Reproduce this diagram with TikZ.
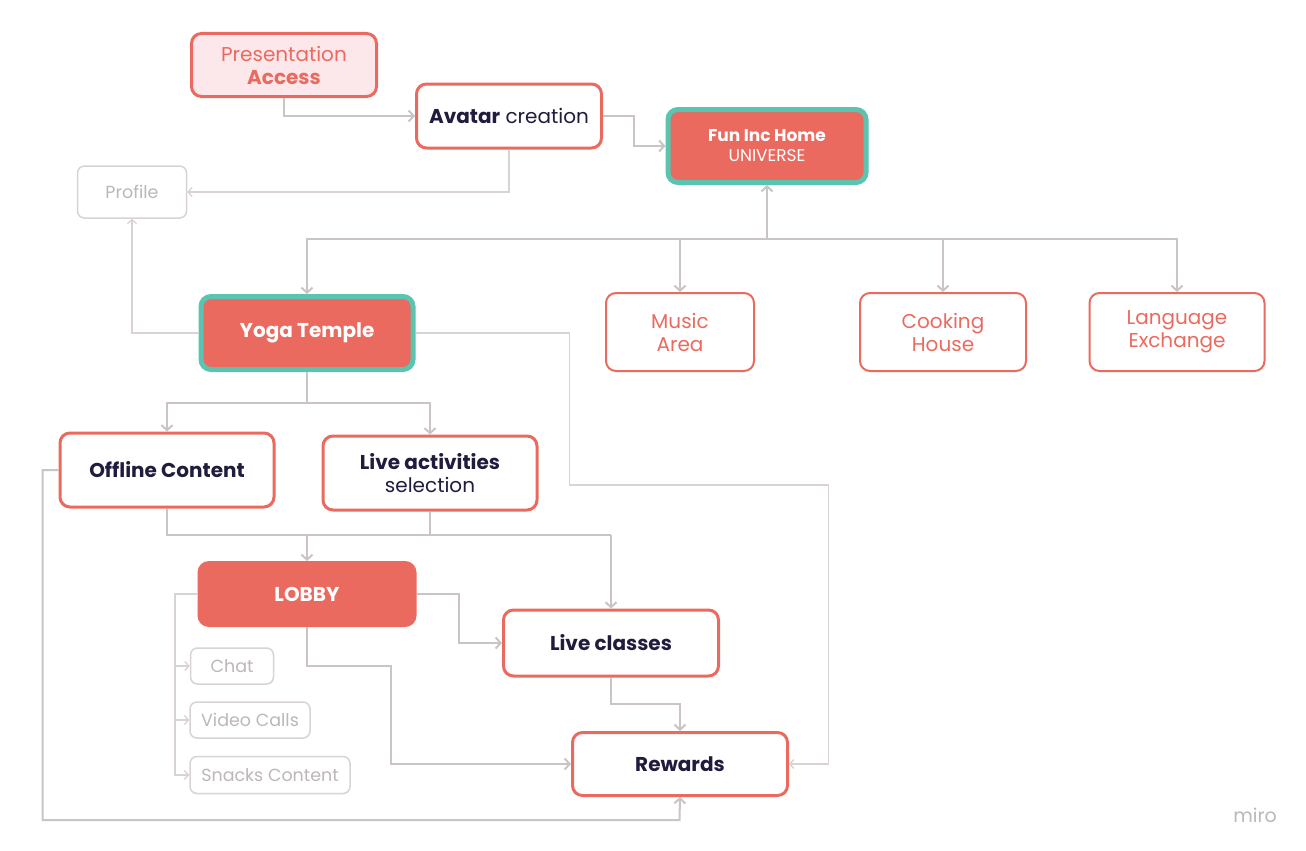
\documentclass[tikz,border=0pt]{standalone}
\usepackage{fontspec}
\setmainfont{Poppins}
\usetikzlibrary{arrows.meta, positioning}
\definecolor{ccoral}{HTML}{EB6A5F}
\definecolor{cteal}{HTML}{5BC4B0}
\definecolor{cnavy}{HTML}{1F1C3D}
\definecolor{cpink}{HTML}{FCE7EA}
\definecolor{cline}{HTML}{CBC4C4}
\definecolor{cfaint}{HTML}{D9D3D3}
\definecolor{cfainttext}{HTML}{BDB7B7}
\tikzset{
  every picture/.style={line width=2pt},
  box/.style={draw=ccoral, fill=white, rounded corners=10pt, align=center, line width=3pt, inner sep=0pt, text=cnavy, font=\fontsize{20}{23}\selectfont},
  area/.style={box, text=ccoral, line width=2pt},
  hubbox/.style={box, fill=ccoral, draw=cteal, line width=5pt, text=white},
  ghost/.style={draw=cfaint, fill=white, rounded corners=7pt, line width=1.5pt, inner sep=0pt, text=cfainttext, font=\fontsize{17.5}{20}\selectfont},
  link/.style={-{Straight Barb[length=5pt, width=11pt]}, draw=cline, line width=2pt},
  thinlink/.style={-{Straight Barb[length=4pt, width=9pt]}, draw=cfaint, line width=1.3pt},
}
\begin{document}
\begin{tikzpicture}[x=1pt, y=-1pt]
  \useasboundingbox[fill=white] (0,0) rectangle (1306,851);
  % top row
  \node[box, fill=cpink, text=ccoral, minimum width=185pt, minimum height=63pt] (pres) at (284,65) {Presentation\\\textbf{Access}};
  \node[box, minimum width=185pt, minimum height=64pt] (avatar) at (509,116) {\textbf{Avatar} creation};
  \node[hubbox, minimum width=198pt, minimum height=73pt, font=\fontsize{17}{20}\selectfont] (home) at (767,146) {\textbf{Fun Inc Home}\\UNIVERSE};
  \node[ghost, minimum width=109pt, minimum height=52pt] (profile) at (132,192) {Profile};
  % areas
  \node[hubbox, minimum width=212pt, minimum height=73pt] (yoga) at (307,333) {\textbf{Yoga Temple}};
  \node[area, minimum width=148pt, minimum height=78pt] (music) at (680,332) {Music\\Area};
  \node[area, minimum width=166pt, minimum height=78pt] (cooking) at (943,332) {Cooking\\House};
  \node[area, minimum width=175pt, minimum height=78pt] (language) at (1177,332) {Language\\Exchange};
  % yoga temple flow
  \node[box, minimum width=214pt, minimum height=74pt] (offline) at (167,470) {\textbf{Offline Content}};
  \node[box, minimum width=214pt, minimum height=74pt] (liveact) at (430,473) {\textbf{Live activities}\\selection};
  \node[box, fill=ccoral, draw=ccoral, text=white, minimum width=216pt, minimum height=63pt] (lobby) at (307,594) {\textbf{LOBBY}};
  \node[box, minimum width=215pt, minimum height=66pt] (liveclass) at (611,643) {\textbf{Live classes}};
  \node[box, minimum width=215pt, minimum height=63pt] (rewards) at (680,764) {\textbf{Rewards}};
  \node[ghost, minimum width=83pt, minimum height=36pt] (chat) at (232,666) {Chat};
  \node[ghost, minimum width=120pt, minimum height=36pt] (video) at (250,720) {Video Calls};
  \node[ghost, minimum width=160pt, minimum height=37pt] (snacks) at (270,775) {Snacks Content};
  \node[text=cfainttext, font=\fontsize{19}{22}\selectfont] (miro) at (1255,815) {miro};
  % connectors
  \coordinate (hub) at (767,239);
  \coordinate (ysplit) at (307,403);
  \coordinate (bar) at (307,535);
  \coordinate (bar2) at (611,535);
  \draw[link] (pres.south) |- (avatar.west);
  \draw[link] (avatar.east) -- ++(31,0) |- (home.west);
  \draw[thinlink] (avatar.south) |- (profile.east);
  \draw[thinlink] (yoga.west) -| (profile.south);
  \draw[link] (hub) -- (home.south);
  \foreach \n in {yoga, music, cooking, language} \draw[link] (hub) -| (\n.north);
  \draw[draw=cline] (yoga.south) -- (ysplit);
  \foreach \n in {offline, liveact} \draw[link] (ysplit) -| (\n.north);
  \draw[thinlink] (yoga.east) -- ++(154,0) |- ++(259,152) |- (rewards.east);
  \draw[draw=cline] (offline.south) |- (bar2);
  \draw[draw=cline] (liveact.south) -- (liveact.south |- bar);
  \draw[link] (bar) -- (lobby.north);
  \draw[link] (bar2) -- (liveclass.north);
  \draw[link] (lobby.east) -- ++(42,0) |- (liveclass.west);
  \draw[link] (lobby.south) -- ++(0,39) -- ++(84,0) |- (rewards.west);
  \draw[link] (liveclass.south) -- ++(0,26) -| (rewards.north);
  \draw[link] (offline.west) -- ++(-16,0) |- ++(637,350) -- (rewards.south);
  \draw[draw=cfaint, line width=1.3pt] (lobby.west) -- ++(-23,0) |- (snacks.west);
  \foreach \n in {chat, video, snacks} \draw[thinlink] (lobby.west -| 175,0) |- (\n.west);
\end{tikzpicture}
\end{document}
